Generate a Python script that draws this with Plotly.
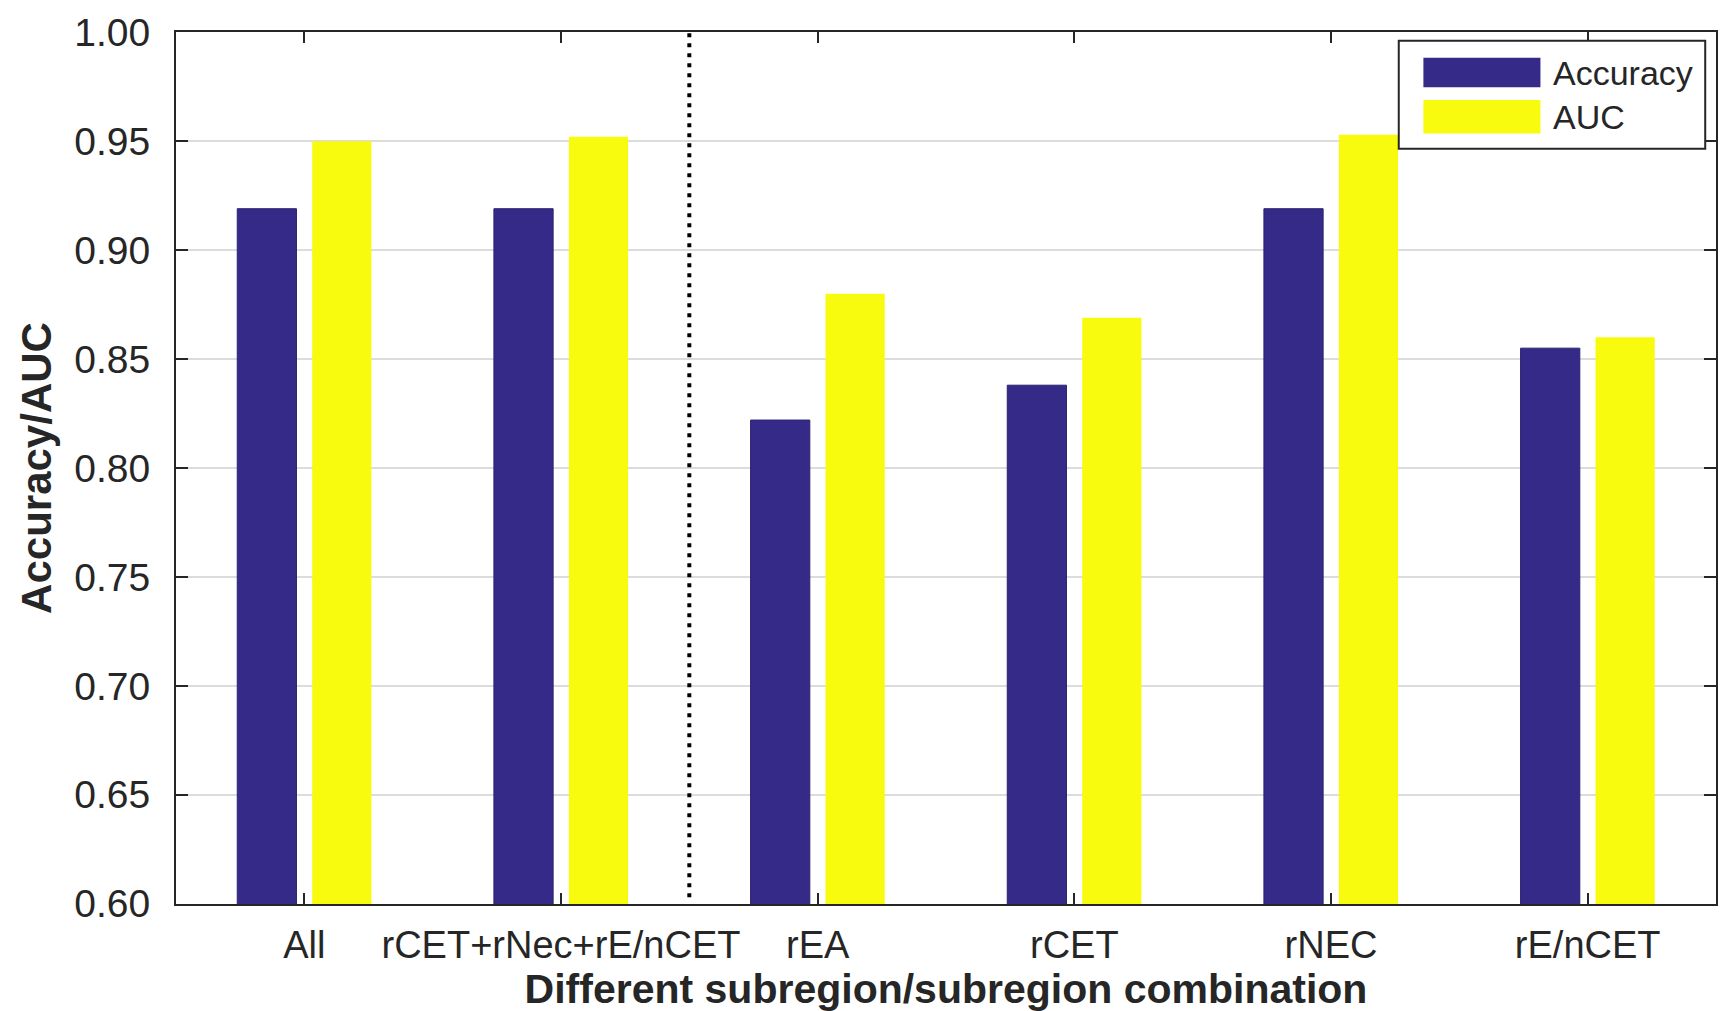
import plotly.graph_objects as go

categories = ["All", "rCET+rNec+rE/nCET", "rEA", "rCET", "rNEC", "rE/nCET"]
accuracy = [0.919, 0.919, 0.822, 0.838, 0.919, 0.855]
auc = [0.950, 0.952, 0.880, 0.869, 0.953, 0.860]
y_ticks = [0.60, 0.65, 0.70, 0.75, 0.80, 0.85, 0.90, 0.95, 1.00]
series_names = ["Accuracy", "AUC"]
colors = ["#352A87", "#F9FB0E"]
divider_x = 1.5

FONT = "Liberation Sans, Arial, sans-serif"
TXT = "#262626"

fig = go.Figure()
fig.add_trace(go.Bar(x=categories, y=accuracy, name=series_names[0],
                     marker=dict(color=colors[0], line=dict(color="#2a2270", width=1)),
                     showlegend=False))
fig.add_trace(go.Bar(x=categories, y=auc, name=series_names[1],
                     marker=dict(color=colors[1], line=dict(width=0)),
                     showlegend=False))

# dotted divider
fig.add_shape(type="line", xref="x", yref="y", x0=divider_x, x1=divider_x,
              y0=0.603, y1=1.0, line=dict(color="black", width=4, dash="4px,6px"))

# manual legend (MATLAB style with wide swatches)
fig.add_shape(type="rect", xref="paper", yref="paper", x0=0.794, x1=0.993,
              y0=0.866, y1=0.990, line=dict(color=TXT, width=2), fillcolor="white", layer="above")
sw = [(0.9705, 0.9365), (0.9220, 0.8835)]
for i, (y1, y0) in enumerate(sw):
    fig.add_shape(type="rect", xref="paper", yref="paper", x0=0.810, x1=0.886,
                  y0=y0, y1=y1, line=dict(width=0), fillcolor=colors[i], layer="above")
    fig.add_annotation(xref="paper", yref="paper", x=0.893, y=(y0 + y1) / 2,
                       text=series_names[i], showarrow=False, xanchor="left", yanchor="middle",
                       font=dict(family=FONT, size=34, color=TXT))

fig.update_layout(
    width=1736, height=1011,
    margin=dict(l=168, r=28, t=24, b=115, autoexpand=False),
    paper_bgcolor="white", plot_bgcolor="white",
    barmode="group", bargap=0.416, bargroupgap=0.21,
    font=dict(family=FONT, color=TXT),
)
fig.update_xaxes(
    type="category", range=[-0.5, 5.5],
    showline=True, linecolor=TXT, linewidth=2, mirror="ticks",
    ticks="inside", ticklen=11, tickwidth=1.5, tickcolor=TXT,
    showgrid=False, tickfont=dict(family=FONT, size=38, color=TXT),
    ticklabelstandoff=6,
    title=dict(text="Different subregion/subregion combination", standoff=2,
               font=dict(family=FONT, size=41, color=TXT, weight="bold")),
)
fig.update_yaxes(
    range=[0.5999, 1.0001], tickvals=y_ticks, tickformat=".2f",
    showline=True, linecolor=TXT, linewidth=2, mirror="ticks",
    ticks="inside", ticklen=12, tickwidth=1.5, tickcolor=TXT,
    showgrid=True, gridcolor="#dcdcdc", gridwidth=1.5, zeroline=False,
    tickfont=dict(family=FONT, size=39, color=TXT),
    ticklabelstandoff=16, ticklabeloverflow="allow",
    title=dict(text="Accuracy/AUC", standoff=10,
               font=dict(family=FONT, size=42, color=TXT, weight="bold")),
)

fig.write_html("out.html")
